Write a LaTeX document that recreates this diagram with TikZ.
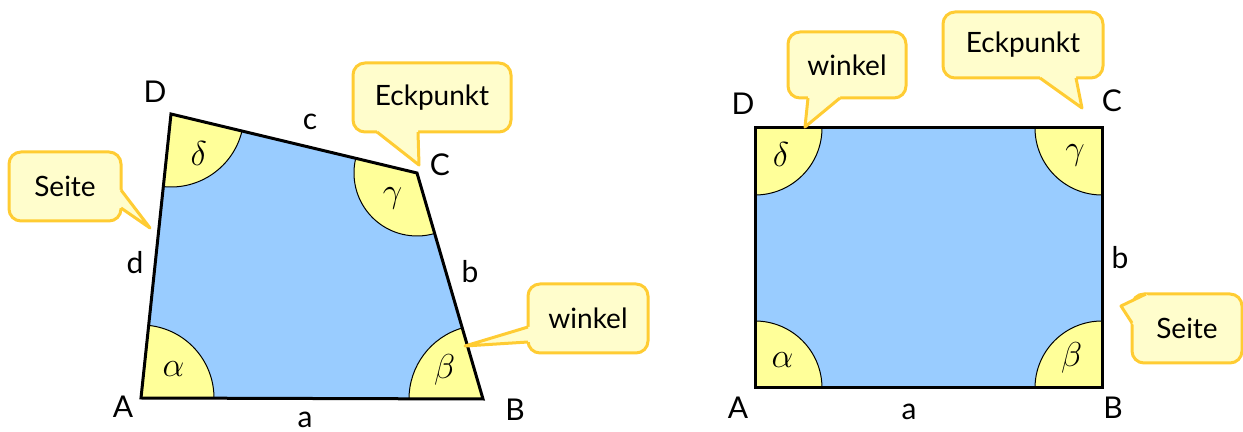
\documentclass[tikz,border=0pt]{standalone}
\usepackage{fontspec}
\setmainfont{Lato}
\usepackage{tikz}
\usetikzlibrary{calc,angles,quotes}
\definecolor{sky}{HTML}{99CCFF}
\definecolor{lemon}{HTML}{FFFF99}
\definecolor{cream}{HTML}{FFFDCC}
\definecolor{gold}{HTML}{FFCC33}
\tikzset{
  every node/.style={font=\fontsize{14}{16}\selectfont},
  bubble/.style={rounded corners=6pt,draw=gold,line width=1.5pt,fill=cream,minimum height=34.5pt,inner sep=0pt},
  tipfill/.style={fill=cream},
  tipline/.style={draw=gold,line width=1.5pt,line join=round},
  edge/.style={line width=1.5pt,line join=miter},
  wedge/.style={draw,line width=.5pt,fill=lemon},
  every pic quotes/.style={font=\fontsize{16}{18}\selectfont},
}
\newcommand\speechtip[4]{%
  \fill[tipfill] (#1) -- (#2) -- (#3) -- ($(#3)+#4$) -- ($(#1)+#4$) -- cycle;
  \draw[tipline] (#1) -- (#2) -- (#3);}

\begin{document}
\begin{tikzpicture}[x=0.5pt,y=-0.5pt,
  lbl/.style={font=\fontsize{15}{17}\selectfont,inner sep=1pt}]
  \useasboundingbox (0,0) rectangle (1243,432);
  % Viereck
  \coordinate (qA) at (141,398);
  \coordinate (qB) at (483,399);
  \coordinate (qC) at (417,173);
  \coordinate (qD) at (171,114);
  \fill[sky] (qA) -- (qB) -- (qC) -- (qD) -- cycle;
  \pic[wedge,angle radius=36.5pt,angle eccentricity=.6,"$\alpha$"] {angle=qB--qA--qD};
  \pic[wedge,angle radius=37pt,angle eccentricity=.65,"$\beta$"] {angle=qC--qB--qA};
  \pic[wedge,angle radius=31.5pt,angle eccentricity=.56,"$\gamma$"] {angle=qD--qC--qB};
  \pic[wedge,angle radius=36.5pt,angle eccentricity=.66,"$\delta$"] {angle=qA--qD--qC};
  \draw[edge] (qA) -- (qB) -- (qC) -- (qD) -- cycle;
  \node[lbl] (qlA) at (123,407) {A};
  \node[lbl] (qlB) at (515,410) {B};
  \node[lbl] (qlC) at (440,165) {C};
  \node[lbl] (qlD) at (155,92) {D};
  \node[lbl] (qla) at (305,420) {a};
  \node[lbl] (qlb) at (470,272) {b};
  \node[lbl] (qlc) at (310,122) {c};
  \node[lbl] (qld) at (135,263) {d};
  % Rechteck
  \coordinate (rA) at (755,388);
  \coordinate (rB) at (1102,388);
  \coordinate (rC) at (1102,128);
  \coordinate (rD) at (755,128);
  \fill[sky] (rA) -- (rB) -- (rC) -- (rD) -- cycle;
  \pic[wedge,angle radius=33.5pt,angle eccentricity=.58,"$\alpha$"] {angle=rB--rA--rD};
  \pic[wedge,angle radius=33.5pt,angle eccentricity=.64,"$\beta$"] {angle=rC--rB--rA};
  \pic[wedge,angle radius=33.5pt,angle eccentricity=.57,"$\gamma$"] {angle=rD--rC--rB};
  \pic[wedge,angle radius=33.5pt,angle eccentricity=.55,"$\delta$"] {angle=rA--rD--rC};
  \draw[edge] (rA) -- (rB) -- (rC) -- (rD) -- cycle;
  \node[lbl] (rlA) at (738,408) {A};
  \node[lbl] (rlB) at (1113,408) {B};
  \node[lbl] (rlC) at (1112,101) {C};
  \node[lbl] (rlD) at (743,104) {D};
  \node[lbl] (rla) at (909,412) {a};
  \node[lbl] (rlb) at (1120,258) {b};
  % Sprechblasen
  \node[bubble,minimum width=56pt] (seite1) at (65,186.5) {Seite};
  \speechtip{121,190}{150,228}{121,208}{(-6,0)}
  \node[bubble,minimum width=79pt] (eck1) at (432,97.5) {Eckpunkt};
  \speechtip{377,132}{419,165}{418,132}{(0,-6)}
  \node[bubble,minimum width=60pt] (winkel1) at (588,318.5) {winkel};
  \speechtip{528,327}{465,346}{528,342}{(6,0)}
  \node[bubble,minimum width=59pt,minimum height=33pt] (winkel2) at (847,65) {winkel};
  \speechtip{808,98}{805,127}{840,98}{(0,-6)}
  \node[bubble,minimum width=80pt,minimum height=33pt] (eck2) at (1023,45) {Eckpunkt};
  \speechtip{1040,78}{1082,108}{1076,78}{(0,-6)}
  \node[bubble,minimum width=55pt] (seite2) at (1187,328.5) {Seite};
  \speechtip{1146,294}{1121,306}{1132,323}{(6,6)}
\end{tikzpicture}
\end{document}
